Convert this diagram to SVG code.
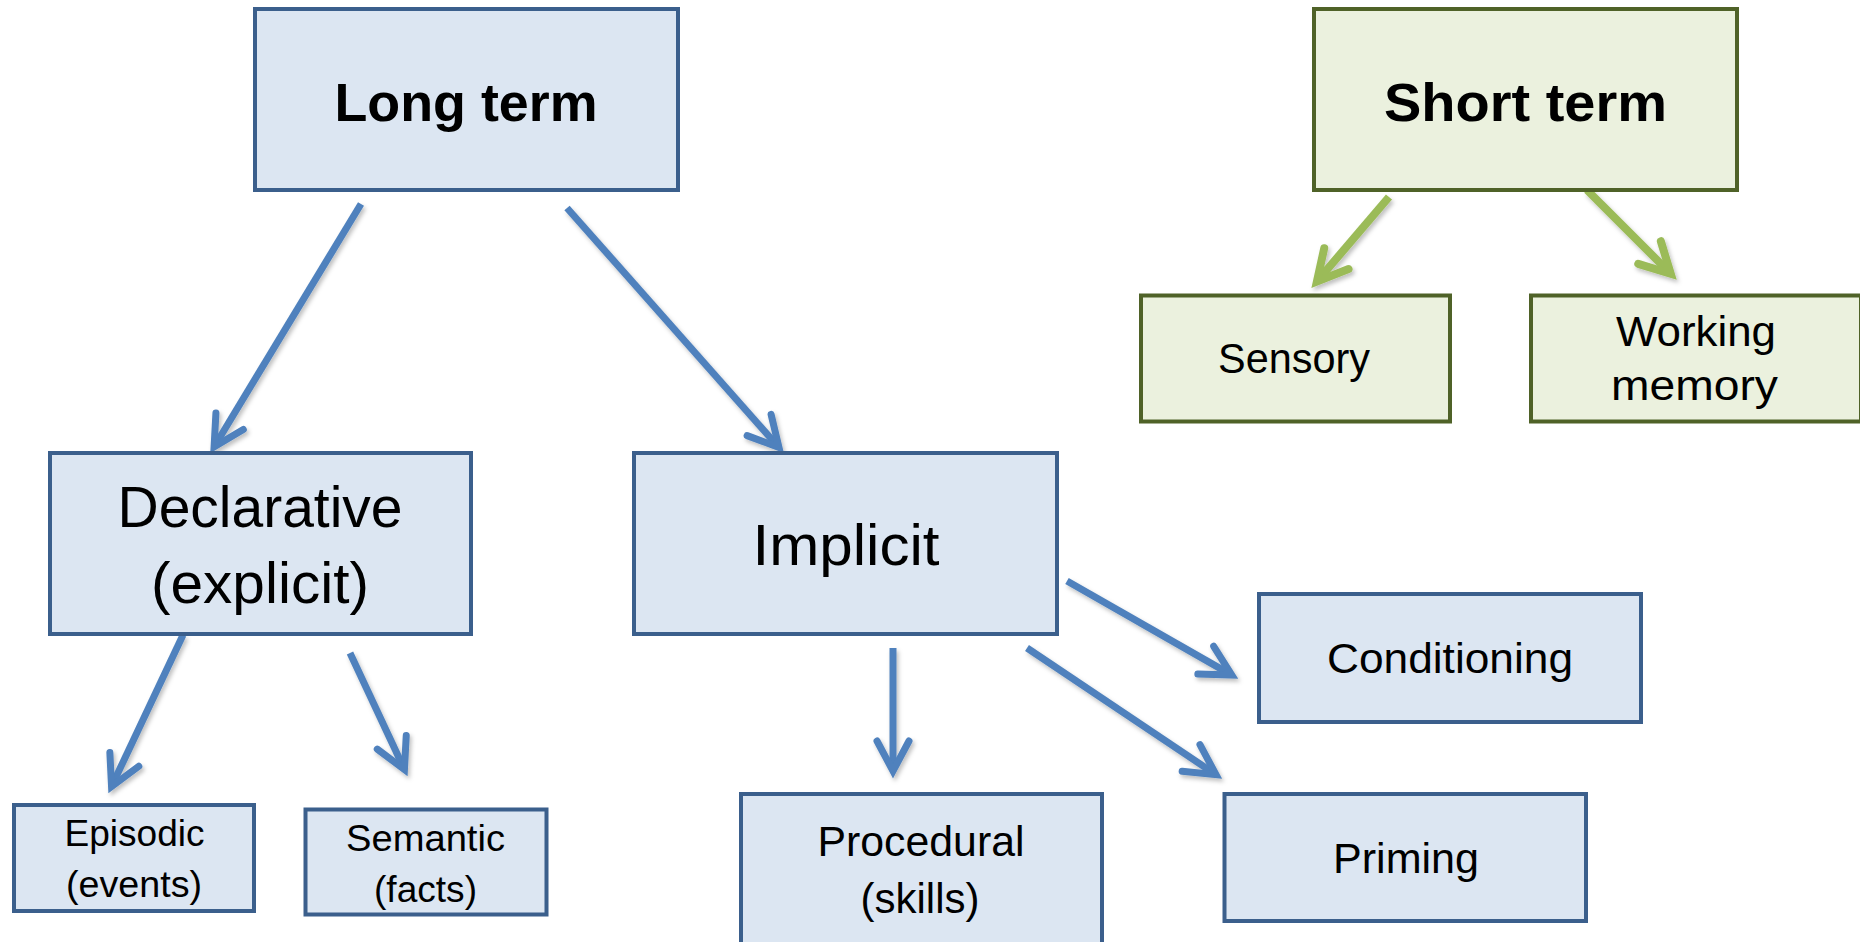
<svg xmlns="http://www.w3.org/2000/svg" width="1860" height="942" viewBox="0 0 1860 942">
<style>
  .blue rect{fill:#dce6f2;stroke:#3b5f8c;stroke-width:4}
  .green rect{fill:#ebf1de;stroke:#4f6228;stroke-width:4}
  text{font-family:"Liberation Sans",Arial,sans-serif;fill:#000;text-anchor:middle}
  .big{font-size:54px;font-weight:bold}
  .l{font-size:57px}
  .m{font-size:43px}
  .s{font-size:36px}
  .cb{fill:none;stroke:#4f81bd;stroke-width:7}
  .cg{fill:none;stroke:#9bbb59;stroke-width:8}
</style>
<defs>
  <filter id="sh" x="-20%" y="-20%" width="140%" height="140%">
    <feDropShadow dx="2" dy="3" stdDeviation="2" flood-color="#000" flood-opacity="0.25"/>
  </filter>
  <marker id="ab" markerUnits="userSpaceOnUse" orient="auto" refX="-6" refY="0" markerWidth="60" markerHeight="60" overflow="visible">
    <path d="M-30,-16 L0,0 L-30,16" fill="none" stroke="#4f81bd" stroke-width="7" stroke-linecap="round" stroke-linejoin="miter"/>
  </marker>
  <marker id="ag" markerUnits="userSpaceOnUse" orient="auto" refX="-6" refY="0" markerWidth="60" markerHeight="60" overflow="visible">
    <path d="M-30,-16 L0,0 L-30,16" fill="none" stroke="#9bbb59" stroke-width="8" stroke-linecap="round" stroke-linejoin="miter"/>
  </marker>
</defs>
<rect width="1860" height="942" fill="#ffffff"/>

<g id="connectors" filter="url(#sh)">
  <path class="cb" d="M361,204 L217.2,441.7" marker-end="url(#ab)"/>
  <path class="cb" d="M567,208 L775,443" marker-end="url(#ab)"/>
  <path class="cb" d="M183,635 L114.1,781.1" marker-end="url(#ab)"/>
  <path class="cb" d="M350,653 L401.9,764.1" marker-end="url(#ab)"/>
  <path class="cb" d="M893,648 L893,765" marker-end="url(#ab)"/>
  <path class="cb" d="M1067,581 L1226.6,672.1" marker-end="url(#ab)"/>
  <path class="cb" d="M1027,648 L1211,771.3" marker-end="url(#ab)"/>
  <path class="cg" d="M1389,197 L1320.8,276.9" marker-end="url(#ag)"/>
  <path class="cg" d="M1587,190 L1666.5,269.5" marker-end="url(#ag)"/>
</g>

<g id="long-term" class="blue">
  <rect x="255" y="9" width="423" height="181"/>
  <text class="big" x="466" y="121" textLength="263" lengthAdjust="spacingAndGlyphs">Long term</text>
</g>
<g id="short-term" class="green">
  <rect x="1314" y="9" width="423" height="181"/>
  <text class="big" x="1525.5" y="121" textLength="283" lengthAdjust="spacingAndGlyphs">Short term</text>
</g>
<g id="sensory" class="green">
  <rect x="1141" y="295.5" width="309" height="126"/>
  <text class="m" x="1294" y="373" textLength="152" lengthAdjust="spacingAndGlyphs">Sensory</text>
</g>
<g id="working-memory" class="green">
  <rect x="1531" y="295.5" width="330" height="126"/>
  <text class="m" x="1696" y="346" textLength="160" lengthAdjust="spacingAndGlyphs">Working</text>
  <text class="m" x="1694.5" y="400" textLength="167" lengthAdjust="spacingAndGlyphs">memory</text>
</g>
<g id="declarative" class="blue">
  <rect x="50" y="453" width="421" height="181"/>
  <text class="l" x="260" y="527" textLength="285" lengthAdjust="spacingAndGlyphs">Declarative</text>
  <text class="l" x="260" y="603" textLength="218" lengthAdjust="spacingAndGlyphs">(explicit)</text>
</g>
<g id="implicit" class="blue">
  <rect x="634" y="453" width="423" height="181"/>
  <text class="l" x="846" y="565" textLength="187" lengthAdjust="spacingAndGlyphs">Implicit</text>
</g>
<g id="conditioning" class="blue">
  <rect x="1259" y="594" width="382" height="128"/>
  <text class="m" x="1450" y="673" textLength="246" lengthAdjust="spacingAndGlyphs">Conditioning</text>
</g>
<g id="episodic" class="blue">
  <rect x="14" y="805" width="240" height="106"/>
  <text class="s" x="134.5" y="846" textLength="140" lengthAdjust="spacingAndGlyphs">Episodic</text>
  <text class="s" x="134" y="897" textLength="136" lengthAdjust="spacingAndGlyphs">(events)</text>
</g>
<g id="semantic" class="blue">
  <rect x="305.5" y="809.5" width="241" height="105"/>
  <text class="s" x="425.5" y="851" textLength="159" lengthAdjust="spacingAndGlyphs">Semantic</text>
  <text class="s" x="425.5" y="902" textLength="103" lengthAdjust="spacingAndGlyphs">(facts)</text>
</g>
<g id="procedural" class="blue">
  <rect x="741" y="794" width="361" height="170"/>
  <text class="m" x="921" y="856" textLength="207" lengthAdjust="spacingAndGlyphs">Procedural</text>
  <text class="m" x="920" y="913" textLength="119" lengthAdjust="spacingAndGlyphs">(skills)</text>
</g>
<g id="priming" class="blue">
  <rect x="1224.5" y="794" width="361.5" height="127"/>
  <text class="m" x="1406" y="873" textLength="146" lengthAdjust="spacingAndGlyphs">Priming</text>
</g>
</svg>
